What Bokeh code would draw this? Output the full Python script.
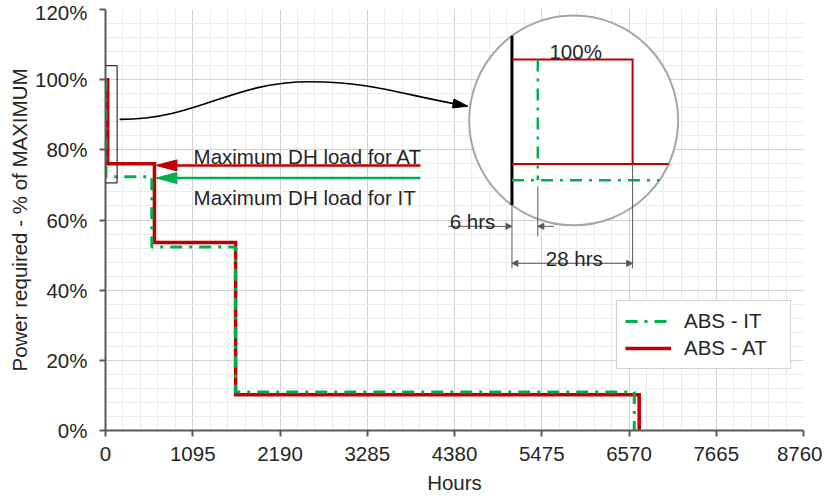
import math
from bokeh.plotting import figure
from bokeh.models import (FixedTicker, Range1d, Legend, LegendItem, Label, Arrow,
                          NormalHead)
from bokeh.embed import file_html
from bokeh.resources import INLINE

# ---------------- data ----------------
hours_ticks = [0, 1095, 2190, 3285, 4380, 5475, 6570, 7665, 8760]
hours_tick_labels = ["0", "1095", "2190", "3285", "4380", "5475", "6570", "7665", "8760"]
pct_ticks = [0, 20, 40, 60, 80, 100, 120]
pct_tick_labels = ["0%", "20%", "40%", "60%", "80%", "100%", "120%"]

# step series: change points (hours) and the level (%) held between them
at_edges = [0, 28, 614, 1633, 6698]
at_levels = [100, 76, 53.6, 10.2]
it_edges = [0, 6, 581, 1630, 6636]
it_levels = [100, 72.3, 52.3, 11.0]

series_names = ["ABS - IT", "ABS - AT"]
note_at = "Maximum DH load for AT"
note_it = "Maximum DH load for IT"
inset_label = "100%"
dim_short = "6 hrs"
dim_long = "28 hrs"
x_title = "Hours"
y_title = "Power required - % of MAXIMUM"

RED = "#C00000"
GREEN = "#00B050"
GREY = "#595959"
TXT = "#262626"
FONT = "Liberation Sans"
FS = "20.5px"


def step_path(edges, levels):
    xs, ys = [], []
    for i, lv in enumerate(levels):
        xs += [edges[i], edges[i + 1]]
        ys += [lv, lv]
    xs.append(edges[-1])
    ys.append(0)
    return xs, ys


# mapping of annotation sketch positions (reference layout) to data space
RX0, RX1 = 107.5, 809.0
RY0, RY1 = 432.3, 11.0


def d(px, py):
    return ((px - RX0) * 8760.0 / (RX1 - RX0), (RY0 - py) * 120.0 / (RY0 - RY1))


def dx(px):
    return d(px, 0)[0]


def dy(py):
    return d(0, py)[1]


p = figure(width=822, height=497, x_range=Range1d(0, 8760), y_range=Range1d(0, 120),
           output_backend="svg", toolbar_location=None,
           min_border_left=105, min_border_right=19, min_border_top=9, min_border_bottom=67)
p.outline_line_color = None
p.background_fill_color = "white"
p.border_fill_color = "white"

p.xaxis.ticker = FixedTicker(ticks=hours_ticks, minor_ticks=list(range(0, 8761, 219)))
p.yaxis.ticker = FixedTicker(ticks=pct_ticks, minor_ticks=list(range(0, 121, 4)))
p.xaxis.major_label_overrides = dict(zip(hours_ticks, hours_tick_labels))
p.yaxis.major_label_overrides = dict(zip(pct_ticks, pct_tick_labels))
for g in (p.xgrid[0], p.ygrid[0]):
    g.grid_line_color = "#d2d2d2"
    g.grid_line_width = 1
    g.minor_grid_line_color = "#ebebeb"
    g.minor_grid_line_width = 1

for ax in (p.xaxis[0], p.yaxis[0]):
    ax.axis_line_color = GREY
    ax.axis_line_width = 2
    ax.major_tick_line_color = GREY
    ax.major_tick_line_width = 2
    ax.major_tick_out = 6
    ax.major_tick_in = 0
    ax.minor_tick_line_color = None
    ax.major_label_text_font = FONT
    ax.major_label_text_font_size = FS
    ax.major_label_text_color = TXT
    ax.axis_label_text_font = FONT
    ax.axis_label_text_font_size = FS
    ax.axis_label_text_font_style = "normal"
    ax.axis_label_text_color = TXT
p.xaxis.axis_label = x_title
p.yaxis.axis_label = y_title
p.xaxis.major_label_standoff = 10
p.xaxis.axis_label_standoff = 7
p.yaxis.major_label_standoff = 12
p.yaxis.axis_label_standoff = 1

# ---------------- series ----------------
at_x, at_y = step_path(at_edges, at_levels)
it_x, it_y = step_path(it_edges, it_levels)
r_at = p.line(at_x, at_y, line_color=RED, line_width=3.5, line_join="miter")
r_it = p.line(it_x, it_y, line_color=GREEN, line_width=3, line_dash="12 7 3 7")

legend = Legend(items=[LegendItem(label=series_names[0], renderers=[r_it]),
                       LegendItem(label=series_names[1], renderers=[r_at])],
                location=(511, 61), orientation="vertical")
legend.border_line_color = "#a6a6a6"
legend.border_line_width = 1
legend.background_fill_color = "white"
legend.background_fill_alpha = 1
legend.padding = 8
legend.spacing = 3
legend.margin = 0
legend.glyph_width = 46
legend.glyph_height = 18
legend.label_height = 18
legend.label_width = 98
legend.label_standoff = 13
legend.label_text_font = FONT
legend.label_text_font_size = FS
legend.label_text_color = TXT
p.add_layout(legend)

# ---------------- annotations ----------------
# highlight box near the origin: an empty framed label, so it may overhang the axis
bcx, bcy = d((96.7 + 119.3) / 2, (67.3 + 184.3) / 2)
p.add_layout(Label(x=bcx, y=bcy, text=" ", text_font_size="1px", text_align="center",
                   text_baseline="middle",
                   padding=dict(left=11, right=11, top=58, bottom=58),
                   border_line_color="#303030", border_line_width=1.2,
                   background_fill_color=None))

# curved connector
seg = [((121.7, 121), (201.7, 121), (233, 83.3), (313, 83.3)),
       ((313, 83.3), (373, 83.3), (405, 95.8), (460.5, 105.7))]
for (a, c0, c1, b) in seg:
    A, C0, C1, B = d(*a), d(*c0), d(*c1), d(*b)
    p.bezier(x0=[A[0]], y0=[A[1]], x1=[B[0]], y1=[B[1]], cx0=[C0[0]], cy0=[C0[1]],
             cx1=[C1[0]], cy1=[C1[1]], line_color="black", line_width=1.6)


def tri(tx, ty, ux, uy, L, W):
    n = math.hypot(ux, uy)
    ux, uy = ux / n, uy / n
    bxp, byp = tx - L * ux, ty - L * uy
    nx, ny = -uy, ux
    pts = [(tx, ty), (bxp + W / 2 * nx, byp + W / 2 * ny), (bxp - W / 2 * nx, byp - W / 2 * ny)]
    conv = [d(*q) for q in pts]
    return [c[0] for c in conv], [c[1] for c in conv]


hx, hy = tri(471.7, 107.7, 1, 0.18, 15, 9)
p.patch(hx, hy, fill_color="black", line_color="black")

# "maximum load" arrows
for yy, col in ((167.0, RED), (179.7, GREEN)):
    p.line([dx(424), dx(178)], [dy(yy), dy(yy)], line_color=col, line_width=2.5)
    hx, hy = tri(158.3, yy, -1, 0, 21, 11)
    p.patch(hx, hy, fill_color=col, line_color=col)

for txt, base in ((note_at, 158.3), (note_it, 199.0)):
    lx, ly = d(196, base)
    p.add_layout(Label(x=lx, y=ly, text=txt, text_font=FONT, text_font_size=FS,
                       text_color=TXT, text_baseline="alphabetic", text_align="left"))

# magnifier circle
CX, CY, R = 578.0, 122.0, 105.0
ccx, ccy = d(CX, CY)
p.ellipse(x=[ccx], y=[ccy], width=[2 * R * 8760.0 / (RX1 - RX0)],
          height=[2 * R * 120.0 / (RY0 - RY1)], fill_color="white",
          line_color="#a6a6a6", line_width=2)

IN_X0, IN_Y0, IN_SX, IN_SY = 516.0, 61.0, 4.33, 4.36


def ipx(h):
    return IN_X0 + h * IN_SX


def ipy(v):
    return IN_Y0 + (100 - v) * IN_SY


def edge_x(py):
    return CX + math.sqrt(R * R - (py - CY) ** 2)


def edge_y(px):
    h = math.sqrt(R * R - (px - CX) ** 2)
    return CY - h, CY + h


# axis inside the magnifier
t0, b0 = edge_y(ipx(0))
p.line([dx(ipx(0))] * 2, [dy(t0), dy(b0)], line_color="black", line_width=3)

# AT (zoomed)
a_top, a_lvl = at_levels[0], at_levels[1]
a_x = [ipx(at_edges[0]), ipx(at_edges[1]), ipx(at_edges[1])]
a_y = [ipy(a_top), ipy(a_top), ipy(a_lvl)]
p.line([dx(v) for v in a_x], [dy(v) for v in a_y], line_color=RED, line_width=2, line_join="miter")
p.line([dx(ipx(0)), dx(edge_x(ipy(a_lvl)))], [dy(ipy(a_lvl))] * 2, line_color=RED, line_width=2)

# IT (zoomed)
i_lvl = it_levels[1]
p.line([dx(ipx(it_edges[1]))] * 2, [dy(ipy(it_levels[0])), dy(ipy(i_lvl))],
       line_color=GREEN, line_width=2.5, line_dash="12 7 3 7")
p.line([dx(ipx(0)), dx(edge_x(ipy(i_lvl)))], [dy(ipy(i_lvl))] * 2,
       line_color=GREEN, line_width=2.5, line_dash="12 7 3 7")

lx, ly = d(580, 53.3)
p.add_layout(Label(x=lx, y=ly, text=inset_label, text_font=FONT, text_font_size=FS,
                   text_color=TXT, text_baseline="alphabetic", text_align="center"))

# dimension lines
ext = [(ipx(0), b0, 270.0), (ipx(it_edges[1]), 188.0, 238.0), (ipx(at_edges[1]), ipy(a_lvl), 270.0)]
for xx, y0_, y1_ in ext:
    p.line([dx(xx)] * 2, [dy(y0_), dy(y1_)], line_color=GREY, line_width=1)


def dim_arrow(x0, x1, yy, both=False):
    ax0, ay = d(x0, yy)
    ax1, _ = d(x1, yy)
    kw = dict(x_start=ax0, y_start=ay, x_end=ax1, y_end=ay, line_color=GREY, line_width=1,
              end=NormalHead(size=6, fill_color=GREY, line_color=GREY))
    if both:
        kw["start"] = NormalHead(size=6, fill_color=GREY, line_color=GREY)
    p.add_layout(Arrow(**kw))


dim_arrow(452, ipx(0), 228.0)
dim_arrow(558.3, ipx(it_edges[1]), 228.0)
dim_arrow(ipx(0), ipx(at_edges[1]), 265.0, both=True)

lx, ly = d(499.3, 223.0)
p.add_layout(Label(x=lx, y=ly, text=dim_short, text_font=FONT, text_font_size=FS,
                   text_color=TXT, text_baseline="alphabetic", text_align="right"))
lx, ly = d(578.7, 260.0)
p.add_layout(Label(x=lx, y=ly, text=dim_long, text_font=FONT, text_font_size=FS,
                   text_color=TXT, text_baseline="alphabetic", text_align="center"))

open("out.html", "w").write(file_html(p, INLINE))
